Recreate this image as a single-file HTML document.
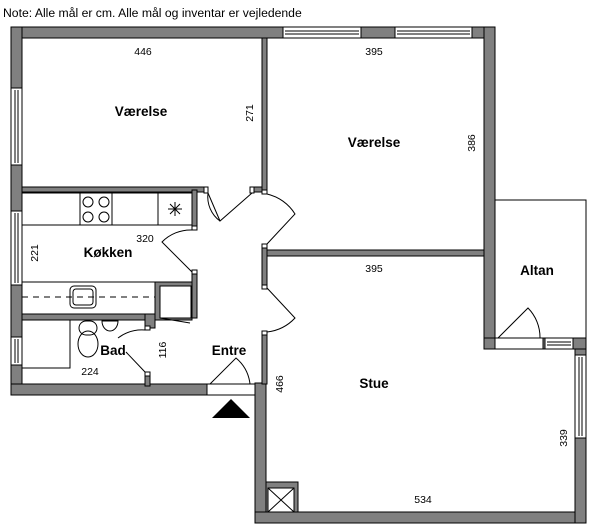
<!DOCTYPE html>
<html><head><meta charset="utf-8"><style>
html,body{margin:0;padding:0;background:#fff;width:600px;height:531px;overflow:hidden}
svg{display:block;font-family:"Liberation Sans",sans-serif}
.w{fill:#808080;stroke:#000;stroke-width:1}
.l{fill:none;stroke:#000;stroke-width:1}
.win{fill:#fff;stroke:#000;stroke-width:1}
.t{font-size:10.5px;fill:#000}
.b{font-size:13.5px;font-weight:bold;fill:#000}
</style></head><body>
<svg width="600" height="531" viewBox="0 0 600 531">
<text x="3" y="17" style="font-size:12.2px">Note: Alle mål er cm. Alle mål og inventar er vejledende</text>

<rect class="w" x="11" y="27" width="484" height="11"/>
<rect class="w" x="11" y="27" width="11" height="368"/>
<rect class="w" x="11" y="384" width="196" height="11"/>
<rect class="w" x="255" y="383" width="11" height="140"/>
<rect class="w" x="255" y="512" width="331" height="11"/>
<rect class="w" x="575" y="338" width="11" height="185"/>
<rect class="w" x="484" y="27" width="11" height="322"/>
<rect class="w" x="484" y="338" width="102" height="11"/>

<rect class="win" x="283" y="27" width="78" height="11"/><line class="l" x1="285" y1="31" x2="359" y2="31"/><line class="l" x1="285" y1="34" x2="359" y2="34"/>
<rect class="win" x="395" y="27" width="77" height="11"/><line class="l" x1="397" y1="31" x2="470" y2="31"/><line class="l" x1="397" y1="34" x2="470" y2="34"/>
<rect class="win" x="11" y="88" width="11" height="77"/><line class="l" x1="15" y1="90" x2="15" y2="163"/><line class="l" x1="18" y1="90" x2="18" y2="163"/>
<rect class="win" x="11" y="211" width="11" height="74"/><line class="l" x1="15" y1="213" x2="15" y2="283"/><line class="l" x1="18" y1="213" x2="18" y2="283"/>
<rect class="win" x="11" y="337" width="11" height="28"/><line class="l" x1="15" y1="339" x2="15" y2="363"/><line class="l" x1="18" y1="339" x2="18" y2="363"/>
<rect class="win" x="575" y="355" width="11" height="83"/><line class="l" x1="579" y1="357" x2="579" y2="436"/><line class="l" x1="582" y1="357" x2="582" y2="436"/>
<rect class="win" x="545" y="338" width="28" height="11"/><line class="l" x1="547" y1="342" x2="571" y2="342"/><line class="l" x1="547" y1="345" x2="571" y2="345"/>
<rect class="win" x="495" y="338" width="48" height="11"/>
<rect class="win" x="207" y="384" width="48" height="11"/>

<polyline class="l" points="495,200 586,200 586,338"/>
<path class="l" d="M498,338 L528,308 A42,42 0 0 1 540,338"/>

<rect class="w" x="262" y="38" width="5" height="152"/>
<rect class="w" x="22" y="187" width="185" height="5"/>
<rect class="w" x="250" y="187" width="12" height="5"/>
<rect class="win" x="204" y="187" width="4" height="6"/>
<rect class="win" x="250" y="187" width="4" height="6"/>
<rect class="win" x="262" y="190" width="5" height="4"/>
<rect class="w" x="266" y="250" width="218" height="6"/>
<rect class="w" x="262" y="245" width="5" height="43"/>
<rect class="win" x="262" y="244" width="5" height="4"/>
<rect class="win" x="262" y="285" width="5" height="4"/>
<rect class="w" x="262" y="332" width="5" height="52"/>
<rect class="win" x="262" y="331" width="5" height="4"/>

<path class="l" d="M208,193 L220,221 L252,193"/>
<path class="l" d="M208,193 A30,30 0 0 0 220,221"/>
<path class="l" d="M267,194 A45,45 0 0 1 295,214 L267,244"/>
<path class="l" d="M267,288 L295,318 A45,45 0 0 1 267,332"/>
<path class="l" d="M210,384 L236,358 A40,40 0 0 1 250,384"/>

<rect class="l" x="22" y="193" width="170" height="32"/>
<line class="l" x1="80" y1="193" x2="80" y2="225"/>
<line class="l" x1="112" y1="193" x2="112" y2="225"/>
<line class="l" x1="158" y1="193" x2="158" y2="225"/>
<circle class="l" cx="88" cy="202" r="5"/><circle class="l" cx="104" cy="202" r="5"/>
<circle class="l" cx="88" cy="217" r="5"/><circle class="l" cx="104" cy="217" r="5"/>
<path class="l" d="M168,209 L182,209 M175,202 L175,216 M170,204 L180,214 M180,204 L170,214"/>
<rect class="w" x="192" y="190" width="5" height="38"/>
<rect class="win" x="192" y="226" width="5" height="4"/>
<path class="l" d="M192,230 A40,40 0 0 0 162,242 L192,272"/>
<rect class="win" x="192" y="270" width="5" height="4"/>
<rect class="w" x="192" y="274" width="5" height="44"/>
<rect class="l" x="22" y="282" width="133" height="32"/>
<line x1="22" y1="297" x2="155" y2="297" stroke="#000" stroke-dasharray="6,5"/>
<rect class="l" x="70" y="286" width="26" height="22" rx="4"/>
<rect class="l" x="73" y="289" width="20" height="16" rx="3"/>
<rect class="w" x="155" y="282" width="37" height="38"/>
<rect class="win" x="160" y="286" width="31" height="32"/>
<line class="l" x1="160" y1="318" x2="190" y2="323"/>
<text class="t" x="145" y="242" text-anchor="middle">320</text>
<text class="b" x="108" y="257" text-anchor="middle">Køkken</text>
<text class="t" transform="translate(38,253) rotate(-90)" text-anchor="middle">221</text>

<rect class="w" x="22" y="314" width="128" height="6"/>
<rect class="w" x="145" y="314" width="10" height="14"/>
<rect class="win" x="145" y="326" width="5" height="4"/>
<polyline class="l" points="70,320 70,368 22,368"/>
<ellipse class="l" cx="88" cy="344" rx="10" ry="13"/>
<rect class="l" x="79" y="321" width="18" height="14" rx="7"/>
<path class="l" d="M102,321 L118,321 A8,10 0 0 1 102,321 Z"/>
<path class="l" d="M118,338 A40,40 0 0 1 145,330"/>
<path class="l" d="M126,352 L145,372"/>
<rect class="win" x="145" y="372" width="5" height="4"/>
<rect class="w" x="145" y="376" width="5" height="10"/>
<text class="b" x="113" y="355" text-anchor="middle">Bad</text>
<text class="t" x="90" y="375" text-anchor="middle">224</text>
<text class="t" transform="translate(166,350) rotate(-90)" text-anchor="middle">116</text>
<text class="b" x="229" y="355" text-anchor="middle">Entre</text>
<polygon points="212,418 250,418 231,399" fill="#000"/>

<text class="t" x="143" y="55" text-anchor="middle">446</text>
<text class="b" x="141" y="116" text-anchor="middle">Værelse</text>
<text class="t" transform="translate(253,113) rotate(-90)" text-anchor="middle">271</text>
<text class="t" x="374" y="55" text-anchor="middle">395</text>
<text class="b" x="374" y="147" text-anchor="middle">Værelse</text>
<text class="t" transform="translate(475,143) rotate(-90)" text-anchor="middle">386</text>
<text class="b" x="537" y="275" text-anchor="middle">Altan</text>
<text class="t" x="374" y="272" text-anchor="middle">395</text>
<text class="b" x="374" y="388" text-anchor="middle">Stue</text>
<text class="t" transform="translate(283,384) rotate(-90)" text-anchor="middle">466</text>
<text class="t" transform="translate(567,438) rotate(-90)" text-anchor="middle">339</text>
<text class="t" x="423" y="503" text-anchor="middle">534</text>

<rect class="w" x="266" y="482" width="32" height="30"/>
<rect class="win" x="268" y="488" width="26" height="24"/>
<path class="l" d="M268,488 L294,512 M294,488 L268,512"/>
</svg>
</body></html>
